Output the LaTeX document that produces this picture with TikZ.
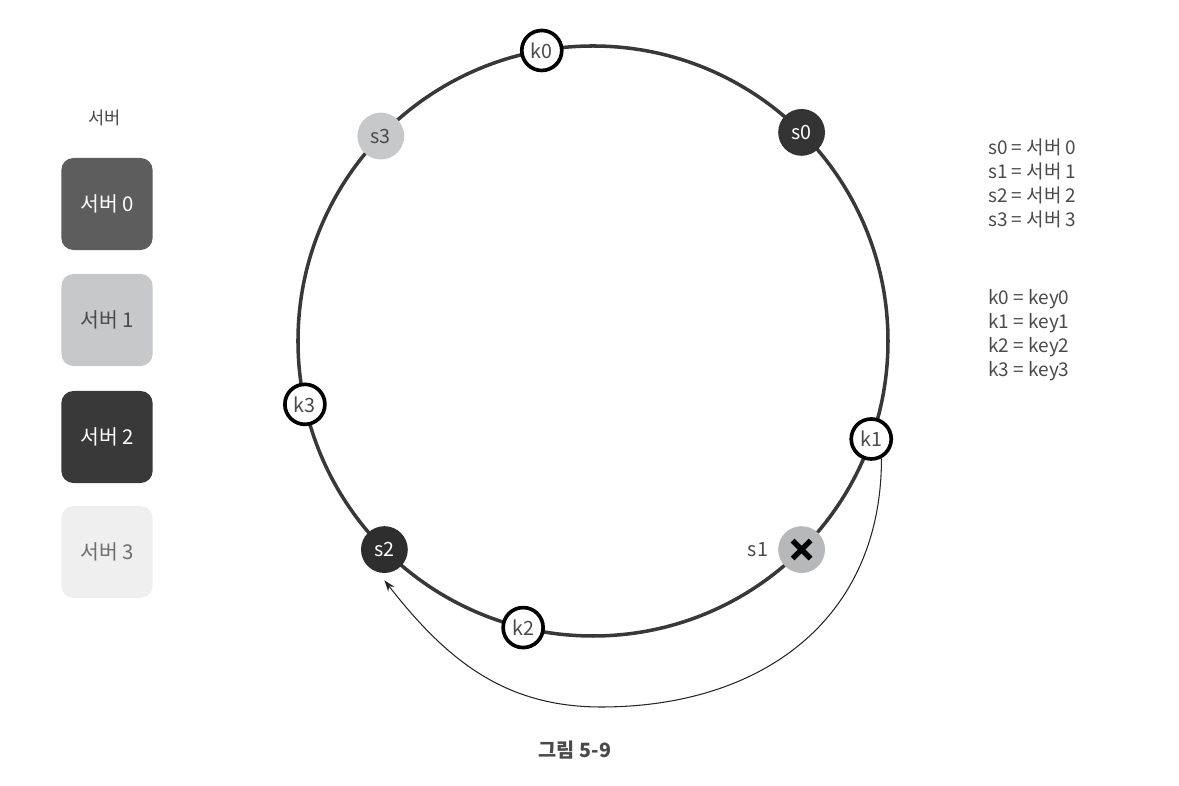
\documentclass[tikz,border=0pt]{standalone}
\usepackage{fontspec}
\setmainfont{Noto Sans CJK KR}
\usepackage{tikz}
\usetikzlibrary{arrows.meta, positioning, calc}

\definecolor{ringgray}{HTML}{383838}
\definecolor{srvzero}{HTML}{5E5D5D}
\definecolor{srvone}{HTML}{C6C8CA}
\definecolor{srvtwo}{HTML}{3A3939}
\definecolor{srvthree}{HTML}{EFEFEF}
\definecolor{txtgray}{HTML}{4A4A4A}

\begin{document}
\begin{tikzpicture}[x=0.025cm, y=0.025cm,
    knode/.style={circle, draw=black, line width=2.6pt, fill=white, minimum size=1cm, inner sep=0pt, font=\fontsize{14}{14}\selectfont, text=txtgray},
    snode/.style={circle, minimum size=1.17cm, inner sep=0pt, font=\fontsize{14}{14}\selectfont},
    legendbox/.style={rectangle, rounded corners=0.3cm, minimum width=2.28cm, minimum height=2.3cm, font=\fontsize{14.5}{14.5}\selectfont},
    linkarrow/.style={-{Stealth[length=8pt, width=5.5pt]}, line width=0.75pt, black!85}]
    \useasboundingbox (-593,-445) rectangle (586,341);

    % hash ring
    \draw[ringgray, line width=2.5pt] (0,0) circle (295);

    % servers on the ring
    \node[snode, fill=srvtwo!90!black, text=white] (s0) at (45:295) {s0};
    \node[snode, fill=srvone!92!black] (s1) at (-45:295) {};
    \node[snode, fill=srvtwo!80!black, text=white] (s2) at (-135:295) {s2};
    \node[snode, fill=srvone, text=txtgray] (s3) at (136:295) {s3};
    \draw[black, line width=3.8pt] ($(s1)+(-9,-9)$) -- ($(s1)+(9,9)$);
    \draw[black, line width=3.8pt] ($(s1)+(-9,9)$) -- ($(s1)+(9,-9)$);
    \node[left=0.12cm of s1, font=\fontsize{14}{14}\selectfont, text=txtgray] (s1lbl) {s1};

    % keys on the ring
    \node[knode] (k0) at (100:295) {k0};
    \node[knode] (k1) at (-19.4:295) {k1};
    \node[knode] (k2) at (-103.7:295) {k2};
    \node[knode] (k3) at (192.4:295) {k3};

    % k1 moves to s2
    \coordinate (low) at (8,-366);
    \draw[linkarrow] (k1.-62) to[out=-90, in=0, looseness=1.1] (low) to[out=180, in=-52] ([yshift=-5pt]s2.south);

    % server legend
    \node[font=\fontsize{12.5}{12.5}\selectfont, text=txtgray] (legtitle) at (-488,223) {서버};
    \node[legendbox, fill=srvzero, text=white] (box0) at (-486,137) {서버 0};
    \node[legendbox, fill=srvone, text=txtgray] (box1) at (-486,21) {서버 1};
    \node[legendbox, fill=srvtwo, text=white] (box2) at (-486,-96) {서버 2};
    \node[legendbox, fill=srvthree, text=txtgray!80] (box3) at (-486,-211) {서버 3};

    % key legend
    \node[anchor=west, align=left, inner sep=0pt, text=txtgray, font=\fontsize{13.5}{17}\selectfont] (srvlist) at (395,157.5)
        {s0 = 서버 0\\s1 = 서버 1\\s2 = 서버 2\\s3 = 서버 3};
    \node[anchor=west, align=left, inner sep=0pt, text=txtgray, font=\fontsize{13.5}{17}\selectfont] (keylist) at (395,6)
        {k0 = key0\\k1 = key1\\k2 = key2\\k3 = key3};

    \node[font=\bfseries\fontsize{14}{14}\selectfont, text=txtgray] (caption) at (-18,-409) {그림 5-9};
\end{tikzpicture}
\end{document}
